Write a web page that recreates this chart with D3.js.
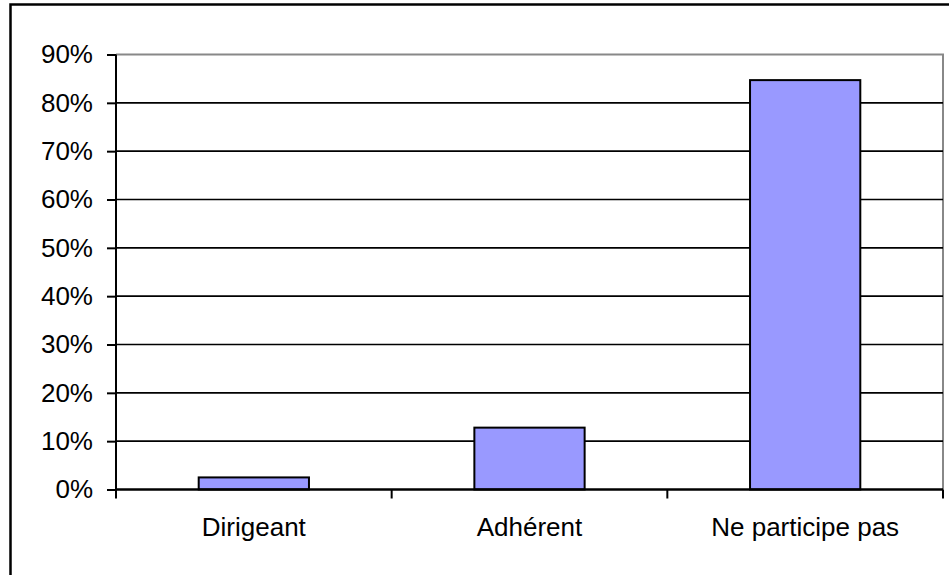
<!DOCTYPE html>
<html>
<head>
<meta charset="utf-8">
<script src="https://cdn.jsdelivr.net/npm/d3@7/dist/d3.min.js"></script>
<style>
  html, body { margin: 0; padding: 0; background: #fff; }
  svg { display: block; }
  text { font-family: "Liberation Sans", Arial, sans-serif; fill: #000; }
</style>
</head>
<body>
<svg id="chart" width="949" height="575"></svg>
<script>
const categories = ["Dirigeant", "Adhérent", "Ne participe pas"];
const values = [0.025, 0.128, 0.847];
const yTicks = [0, 0.1, 0.2, 0.3, 0.4, 0.5, 0.6, 0.7, 0.8, 0.9];

const svg = d3.select("#chart");
const pLeft = 116, pRight = 943, pTop = 54.5, pBottom = 489.5;

// outer frame (right/bottom edges fall outside the picture)
svg.append("rect")
  .attr("x", 10.5).attr("y", 4.5).attr("width", 980).attr("height", 620)
  .attr("fill", "#fff").attr("stroke", "#000").attr("stroke-width", 2.5);

const x = d3.scaleBand().domain(categories).range([pLeft, pRight])
  .paddingInner(0.6).paddingOuter(0.3);
const y = d3.scaleLinear().domain([0, 0.9]).range([pBottom, pTop]);

// plot area border (gray top/right)
svg.append("path")
  .attr("d", `M${pLeft},${pTop}H${pRight}V${pBottom}`)
  .attr("fill", "none").attr("stroke", "#888").attr("stroke-width", 2);

// gridlines
svg.append("g").selectAll("line")
  .data(yTicks.filter(d => d > 0 && d < 0.9))
  .join("line")
  .attr("x1", pLeft).attr("x2", pRight)
  .attr("y1", d => y(d)).attr("y2", d => y(d))
  .attr("stroke", "#000").attr("stroke-width", 1.6);

// bars
svg.append("g").selectAll("rect")
  .data(values)
  .join("rect")
  .attr("x", (d, i) => x(categories[i]))
  .attr("width", x.bandwidth())
  .attr("y", d => y(d))
  .attr("height", d => y(0) - y(d))
  .attr("fill", "#9999FF")
  .attr("stroke", "#000").attr("stroke-width", 2);

// y axis
const yAxis = d3.axisLeft(y).tickValues(yTicks).tickFormat(d3.format(".0%"))
  .tickSize(9).tickPadding(14);
const gy = svg.append("g").attr("transform", `translate(${pLeft},0)`).call(yAxis);
gy.select(".domain").attr("stroke", "#000").attr("stroke-width", 2)
  .attr("d", `M0,${pTop}V${pBottom}`);
gy.selectAll(".tick line").attr("stroke", "#000").attr("stroke-width", 2);
gy.selectAll(".tick text").attr("font-size", 26).attr("font-family", "Liberation Sans, Arial, sans-serif");

// x axis with boundary ticks
const bounds = [pLeft].concat(categories.map(c => x(c) - x.step() * x.paddingInner() / 2 + x.step()));
const gx = svg.append("g");
gx.append("line").attr("x1", pLeft).attr("x2", pRight)
  .attr("y1", pBottom).attr("y2", pBottom)
  .attr("stroke", "#000").attr("stroke-width", 2.5);
gx.selectAll("line.bt").data(bounds).join("line").attr("class", "bt")
  .attr("x1", d => d).attr("x2", d => d)
  .attr("y1", pBottom).attr("y2", pBottom + 9)
  .attr("stroke", "#000").attr("stroke-width", 2);
gx.selectAll("text").data(categories).join("text")
  .attr("x", d => x(d) + x.bandwidth() / 2)
  .attr("y", 536)
  .attr("text-anchor", "middle")
  .attr("font-size", 26)
  .text(d => d);
</script>
</body>
</html>
